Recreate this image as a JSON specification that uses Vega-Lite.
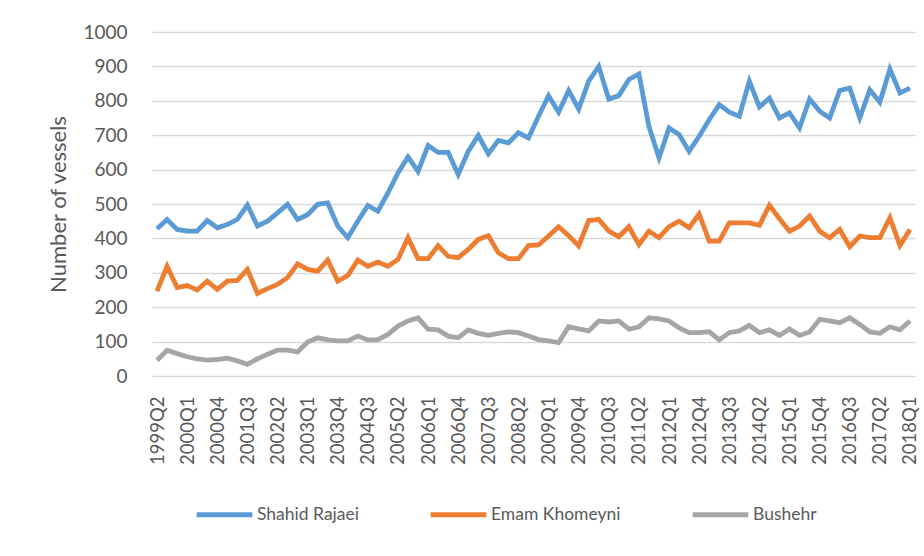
{
  "$schema": "https://vega.github.io/schema/vega-lite/v6.json",
  "width": 763,
  "height": 344,
  "autosize": {"type": "none"},
  "padding": {"left": 152, "top": 32, "right": 9, "bottom": 180},
  "background": "white",
  "config": {
    "font": "Lato",
    "view": {"stroke": null},
    "axis": {"labelColor": "#595959", "titleColor": "#595959", "labelFont": "Lato", "titleFont": "Lato"},
    "legend": {"labelFont": "Lato", "labelColor": "#595959"}
  },
  "data": {
    "values": [
      {"q":"1999Q2","Shahid Rajaei":428,"Emam Khomeyni":247,"Bushehr":46},
      {"q":"1999Q3","Shahid Rajaei":455,"Emam Khomeyni":319,"Bushehr":75},
      {"q":"1999Q4","Shahid Rajaei":426,"Emam Khomeyni":257,"Bushehr":65},
      {"q":"2000Q1","Shahid Rajaei":421,"Emam Khomeyni":263,"Bushehr":56},
      {"q":"2000Q2","Shahid Rajaei":421,"Emam Khomeyni":250,"Bushehr":50},
      {"q":"2000Q3","Shahid Rajaei":452,"Emam Khomeyni":276,"Bushehr":46},
      {"q":"2000Q4","Shahid Rajaei":431,"Emam Khomeyni":252,"Bushehr":48},
      {"q":"2001Q1","Shahid Rajaei":440,"Emam Khomeyni":276,"Bushehr":52},
      {"q":"2001Q2","Shahid Rajaei":455,"Emam Khomeyni":278,"Bushehr":44},
      {"q":"2001Q3","Shahid Rajaei":497,"Emam Khomeyni":310,"Bushehr":34},
      {"q":"2001Q4","Shahid Rajaei":436,"Emam Khomeyni":240,"Bushehr":50},
      {"q":"2002Q1","Shahid Rajaei":450,"Emam Khomeyni":254,"Bushehr":63},
      {"q":"2002Q2","Shahid Rajaei":474,"Emam Khomeyni":266,"Bushehr":75},
      {"q":"2002Q3","Shahid Rajaei":499,"Emam Khomeyni":286,"Bushehr":75},
      {"q":"2002Q4","Shahid Rajaei":455,"Emam Khomeyni":326,"Bushehr":70},
      {"q":"2003Q1","Shahid Rajaei":469,"Emam Khomeyni":310,"Bushehr":99},
      {"q":"2003Q2","Shahid Rajaei":499,"Emam Khomeyni":305,"Bushehr":111},
      {"q":"2003Q3","Shahid Rajaei":503,"Emam Khomeyni":337,"Bushehr":105},
      {"q":"2003Q4","Shahid Rajaei":436,"Emam Khomeyni":276,"Bushehr":102},
      {"q":"2004Q1","Shahid Rajaei":402,"Emam Khomeyni":292,"Bushehr":102},
      {"q":"2004Q2","Shahid Rajaei":450,"Emam Khomeyni":337,"Bushehr":116},
      {"q":"2004Q3","Shahid Rajaei":496,"Emam Khomeyni":319,"Bushehr":105},
      {"q":"2004Q4","Shahid Rajaei":479,"Emam Khomeyni":331,"Bushehr":106},
      {"q":"2005Q1","Shahid Rajaei":532,"Emam Khomeyni":319,"Bushehr":121},
      {"q":"2005Q2","Shahid Rajaei":590,"Emam Khomeyni":339,"Bushehr":145},
      {"q":"2005Q3","Shahid Rajaei":637,"Emam Khomeyni":402,"Bushehr":160},
      {"q":"2005Q4","Shahid Rajaei":595,"Emam Khomeyni":341,"Bushehr":169},
      {"q":"2006Q1","Shahid Rajaei":670,"Emam Khomeyni":341,"Bushehr":136},
      {"q":"2006Q2","Shahid Rajaei":650,"Emam Khomeyni":379,"Bushehr":134},
      {"q":"2006Q3","Shahid Rajaei":650,"Emam Khomeyni":348,"Bushehr":116},
      {"q":"2006Q4","Shahid Rajaei":586,"Emam Khomeyni":344,"Bushehr":111},
      {"q":"2007Q1","Shahid Rajaei":653,"Emam Khomeyni":368,"Bushehr":134},
      {"q":"2007Q2","Shahid Rajaei":699,"Emam Khomeyni":397,"Bushehr":124},
      {"q":"2007Q3","Shahid Rajaei":646,"Emam Khomeyni":408,"Bushehr":118},
      {"q":"2007Q4","Shahid Rajaei":685,"Emam Khomeyni":358,"Bushehr":124},
      {"q":"2008Q1","Shahid Rajaei":678,"Emam Khomeyni":341,"Bushehr":128},
      {"q":"2008Q2","Shahid Rajaei":707,"Emam Khomeyni":341,"Bushehr":126},
      {"q":"2008Q3","Shahid Rajaei":692,"Emam Khomeyni":379,"Bushehr":116},
      {"q":"2008Q4","Shahid Rajaei":755,"Emam Khomeyni":381,"Bushehr":106},
      {"q":"2009Q1","Shahid Rajaei":815,"Emam Khomeyni":407,"Bushehr":102},
      {"q":"2009Q2","Shahid Rajaei":767,"Emam Khomeyni":434,"Bushehr":97},
      {"q":"2009Q3","Shahid Rajaei":830,"Emam Khomeyni":408,"Bushehr":143},
      {"q":"2009Q4","Shahid Rajaei":776,"Emam Khomeyni":378,"Bushehr":137},
      {"q":"2010Q1","Shahid Rajaei":857,"Emam Khomeyni":452,"Bushehr":131},
      {"q":"2010Q2","Shahid Rajaei":900,"Emam Khomeyni":455,"Bushehr":160},
      {"q":"2010Q3","Shahid Rajaei":805,"Emam Khomeyni":421,"Bushehr":157},
      {"q":"2010Q4","Shahid Rajaei":815,"Emam Khomeyni":405,"Bushehr":160},
      {"q":"2011Q1","Shahid Rajaei":862,"Emam Khomeyni":434,"Bushehr":136},
      {"q":"2011Q2","Shahid Rajaei":878,"Emam Khomeyni":382,"Bushehr":143},
      {"q":"2011Q3","Shahid Rajaei":725,"Emam Khomeyni":421,"Bushehr":169},
      {"q":"2011Q4","Shahid Rajaei":634,"Emam Khomeyni":402,"Bushehr":166},
      {"q":"2012Q1","Shahid Rajaei":721,"Emam Khomeyni":434,"Bushehr":160},
      {"q":"2012Q2","Shahid Rajaei":702,"Emam Khomeyni":450,"Bushehr":140},
      {"q":"2012Q3","Shahid Rajaei":653,"Emam Khomeyni":431,"Bushehr":126},
      {"q":"2012Q4","Shahid Rajaei":697,"Emam Khomeyni":471,"Bushehr":126},
      {"q":"2013Q1","Shahid Rajaei":745,"Emam Khomeyni":392,"Bushehr":129},
      {"q":"2013Q2","Shahid Rajaei":789,"Emam Khomeyni":392,"Bushehr":105},
      {"q":"2013Q3","Shahid Rajaei":767,"Emam Khomeyni":445,"Bushehr":126},
      {"q":"2013Q4","Shahid Rajaei":755,"Emam Khomeyni":445,"Bushehr":131},
      {"q":"2014Q1","Shahid Rajaei":857,"Emam Khomeyni":445,"Bushehr":147},
      {"q":"2014Q2","Shahid Rajaei":782,"Emam Khomeyni":438,"Bushehr":126},
      {"q":"2014Q3","Shahid Rajaei":808,"Emam Khomeyni":496,"Bushehr":134},
      {"q":"2014Q4","Shahid Rajaei":750,"Emam Khomeyni":457,"Bushehr":118},
      {"q":"2015Q1","Shahid Rajaei":765,"Emam Khomeyni":421,"Bushehr":137},
      {"q":"2015Q2","Shahid Rajaei":721,"Emam Khomeyni":436,"Bushehr":118},
      {"q":"2015Q3","Shahid Rajaei":805,"Emam Khomeyni":465,"Bushehr":128},
      {"q":"2015Q4","Shahid Rajaei":770,"Emam Khomeyni":421,"Bushehr":165},
      {"q":"2016Q1","Shahid Rajaei":750,"Emam Khomeyni":402,"Bushehr":160},
      {"q":"2016Q2","Shahid Rajaei":830,"Emam Khomeyni":426,"Bushehr":155},
      {"q":"2016Q3","Shahid Rajaei":837,"Emam Khomeyni":376,"Bushehr":169},
      {"q":"2016Q4","Shahid Rajaei":750,"Emam Khomeyni":407,"Bushehr":150},
      {"q":"2017Q1","Shahid Rajaei":832,"Emam Khomeyni":402,"Bushehr":128},
      {"q":"2017Q2","Shahid Rajaei":796,"Emam Khomeyni":402,"Bushehr":124},
      {"q":"2017Q3","Shahid Rajaei":892,"Emam Khomeyni":460,"Bushehr":143},
      {"q":"2017Q4","Shahid Rajaei":823,"Emam Khomeyni":379,"Bushehr":134},
      {"q":"2018Q1","Shahid Rajaei":837,"Emam Khomeyni":426,"Bushehr":160}
    ]
  },
  "transform": [
    {"fold": ["Shahid Rajaei", "Emam Khomeyni", "Bushehr"], "as": ["port", "n"]}
  ],
  "mark": {"type": "line", "strokeWidth": 4.8, "strokeJoin": "miter"},
  "encoding": {
    "x": {
      "field": "q", "type": "ordinal", "sort": null,
      "scale": {"type": "point", "padding": 0.5},
      "axis": {
        "title": null,
        "values": ["1999Q2","2000Q1","2000Q4","2001Q3","2002Q2","2003Q1","2003Q4","2004Q3","2005Q2","2006Q1","2006Q4","2007Q3","2008Q2","2009Q1","2009Q4","2010Q3","2011Q2","2012Q1","2012Q4","2013Q3","2014Q2","2015Q1","2015Q4","2016Q3","2017Q2","2018Q1"],
        "labelAngle": -90, "labelAlign": "right", "labelBaseline": "middle",
        "labelFontSize": 18.5, "labelPadding": 20,
        "domain": false, "ticks": false, "grid": false, "labelOverlap": false
      }
    },
    "y": {
      "field": "n", "type": "quantitative",
      "scale": {"domain": [0, 1000], "nice": false},
      "axis": {
        "title": "Number of vessels", "titleFontSize": 22, "titleFontWeight": "normal", "titlePadding": 12,
        "values": [0,100,200,300,400,500,600,700,800,900,1000],
        "format": "d",
        "labelFontSize": 19, "labelPadding": 25,
        "domain": false, "ticks": false,
        "grid": true, "gridColor": "#d9d9d9", "gridWidth": 1.3
      }
    },
    "color": {
      "field": "port", "type": "nominal",
      "sort": ["Shahid Rajaei", "Emam Khomeyni", "Bushehr"],
      "scale": {"domain": ["Shahid Rajaei", "Emam Khomeyni", "Bushehr"], "range": ["#5B9BD5", "#ED7D31", "#A5A5A5"]},
      "legend": {
        "title": null, "orient": "none", "legendX": 42, "legendY": 452, "direction": "horizontal",
        "symbolType": "stroke", "symbolSize": 3100, "symbolStrokeWidth": 5,
        "labelFontSize": 17.5, "columnPadding": 61, "labelOffset": 2
      }
    }
  }
}
